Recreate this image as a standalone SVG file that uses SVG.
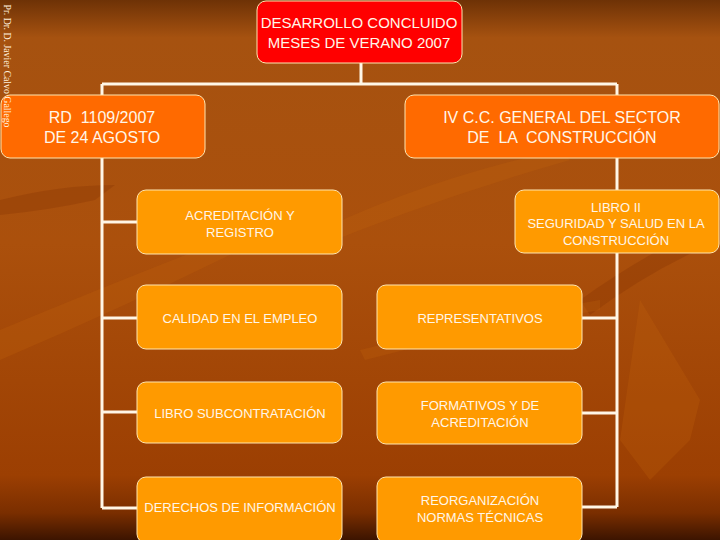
<svg xmlns="http://www.w3.org/2000/svg" width="720" height="540" viewBox="0 0 720 540">
<defs>
<linearGradient id="bg" x1="0" y1="0" x2="0" y2="1">
<stop offset="0" stop-color="#6e3206"/>
<stop offset="0.07" stop-color="#a65210"/>
<stop offset="0.45" stop-color="#ab500c"/>
<stop offset="0.88" stop-color="#9c3f02"/>
<stop offset="0.95" stop-color="#7a2e00"/>
<stop offset="1" stop-color="#3c1400"/>
</linearGradient>
<style>
.ln{stroke:#fff6e6;stroke-width:3;fill:none}
.top rect{fill:#ff0000;stroke:#ffe6b0;stroke-width:1}
.l1 rect{fill:#ff6a00;stroke:#ffe6b0;stroke-width:1}
.l2 rect{fill:#ff9a00;stroke:#ffe6b0;stroke-width:1}
text{font-family:"Liberation Sans",Arial,sans-serif;fill:#fff6e8;text-anchor:middle;white-space:pre}
.t15{font-size:15px}
.t16{font-size:16px}
.t13{font-size:13px}
.deco{fill:#c8680c;opacity:0.22}
.deco2{fill:#7a2c00;opacity:0.25}
</style>
</defs>
<rect width="720" height="540" fill="url(#bg)"/>
<g id="decor">
<path class="deco" d="M0 330 Q120 280 250 230 L260 240 Q140 300 0 360 Z"/>
<path class="deco2" d="M0 200 Q60 185 115 185 L95 200 Q50 210 0 215 Z"/>
<path class="deco" d="M300 240 Q420 180 560 150 L570 160 Q430 200 310 250 Z"/>
<path class="deco" d="M640 300 L700 400 L690 440 L650 480 L620 440 Z"/>
<path class="deco2" d="M580 300 Q650 250 720 220 L720 240 Q650 270 590 315 Z"/>
<path class="deco" d="M360 350 Q480 320 600 300 L600 310 Q480 330 365 360 Z"/>
</g>
<g id="connectors">
<path class="ln" d="M361 63 V84 M102 84 H617 M102 84 V508 M102 222 H137 M102 318 H137 M102 412 H137 M102 508 H137 M617 84 V507 M582 318 H617 M582 413 H617 M582 507 H617"/>
</g>
<g id="n-top" class="top">
<rect x="257" y="1" width="205" height="62" rx="9"/>
<text class="t15" x="359" y="28">DESARROLLO CONCLUIDO</text>
<text class="t15" x="359" y="48">MESES DE VERANO 2007</text>
</g>
<g id="n-rd" class="l1">
<rect x="1" y="95" width="204" height="63" rx="9"/>
<text class="t16" x="102" y="123">RD  1109/2007</text>
<text class="t16" x="102" y="143">DE 24 AGOSTO</text>
</g>
<g id="n-iv" class="l1">
<rect x="405" y="95" width="314" height="63" rx="9"/>
<text class="t16" x="562" y="123">IV C.C. GENERAL DEL SECTOR</text>
<text class="t16" x="562" y="143">DE  LA  CONSTRUCCIÓN</text>
</g>
<g id="n-acred" class="l2">
<rect x="137" y="190" width="205" height="64" rx="9"/>
<text class="t13" x="240" y="220">ACREDITACIÓN Y</text>
<text class="t13" x="240" y="237">REGISTRO</text>
</g>
<g id="n-calidad" class="l2">
<rect x="137" y="285" width="205" height="64" rx="9"/>
<text class="t13" x="240" y="323">CALIDAD EN EL EMPLEO</text>
</g>
<g id="n-libro-sub" class="l2">
<rect x="137" y="382" width="205" height="61" rx="9"/>
<text class="t13" x="240" y="418">LIBRO SUBCONTRATACIÓN</text>
</g>
<g id="n-derechos" class="l2">
<rect x="137" y="477" width="205" height="66" rx="9"/>
<text class="t13" x="240" y="512">DERECHOS DE INFORMACIÓN</text>
</g>
<g id="n-libro2" class="l2">
<rect x="515" y="190" width="204" height="63" rx="9"/>
<text class="t13" x="616" y="212">LIBRO II</text>
<text class="t13" x="616" y="228">SEGURIDAD Y SALUD EN LA</text>
<text class="t13" x="616" y="245">CONSTRUCCIÓN</text>
</g>
<g id="n-repr" class="l2">
<rect x="377" y="285" width="205" height="64" rx="9"/>
<text class="t13" x="480" y="323">REPRESENTATIVOS</text>
</g>
<g id="n-form" class="l2">
<rect x="377" y="382" width="205" height="62" rx="9"/>
<text class="t13" x="480" y="410">FORMATIVOS Y DE</text>
<text class="t13" x="480" y="427">ACREDITACIÓN</text>
</g>
<g id="n-reorg" class="l2">
<rect x="377" y="477" width="205" height="66" rx="9"/>
<text class="t13" x="480" y="505">REORGANIZACIÓN</text>
<text class="t13" x="480" y="522">NORMAS TÉCNICAS</text>
</g>
<text transform="translate(4,66) rotate(90)" style="font-family:'Liberation Serif','Times New Roman',serif;font-size:10px;fill:#fff0dc" textLength="123" lengthAdjust="spacingAndGlyphs">Pr. Dr. D. Javier Calvo Gallego</text>
</svg>
